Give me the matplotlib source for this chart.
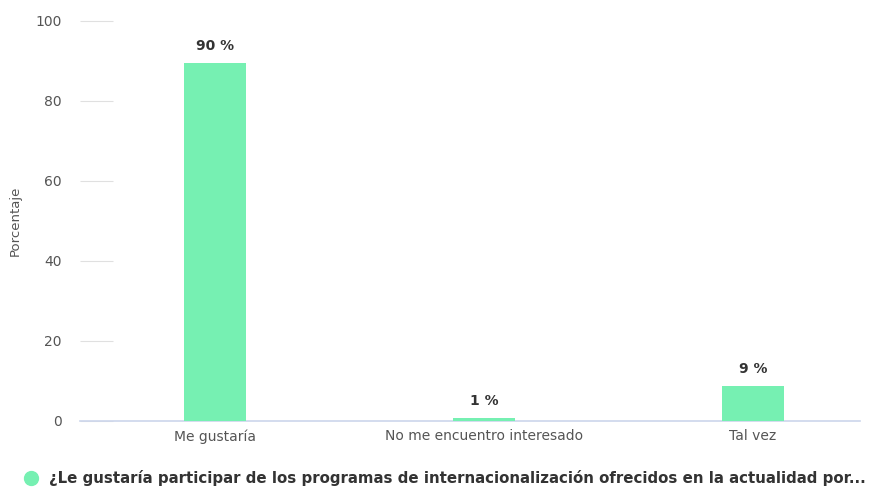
import matplotlib.pyplot as plt
from matplotlib.lines import Line2D

# datos
categorias = ["Me gustaría", "No me encuentro interesado", "Tal vez"]
porcentajes = [89.5, 0.7, 8.8]
etiquetas = ["90 %", "1 %", "9 %"]
serie = "¿Le gustaría participar de los programas de internacionalización ofrecidos en la actualidad por..."
yticks = [0, 20, 40, 60, 80, 100]

plt.rcParams['font.family'] = ['DejaVu Sans']

fig = plt.figure(figsize=(8.76, 4.87), dpi=100)
ax = fig.add_axes([80 / 876, 66 / 487, 780 / 876, 400 / 487])

verde = "#76f0b2"
x = range(len(categorias))
ax.bar(x, porcentajes, width=0.23, color=verde, zorder=3)

for i, (v, t) in enumerate(zip(porcentajes, etiquetas)):
    ax.annotate(t, (i, v), xytext=(0, 7), textcoords="offset points",
                ha="center", va="bottom", fontsize=10, fontweight="bold",
                color="#333333")

ax.set_xlim(-0.502, 2.398)
ax.set_ylim(0, 100)
ax.set_xticks(list(x))
ax.set_xticklabels(categorias, fontsize=10, color="#555555")
ax.set_yticks(yticks)
ax.tick_params(axis="x", length=0, pad=6)
ax.tick_params(axis="y", direction="in", length=24, width=0.8, color="#e0e0e0",
               pad=13, labelsize=10, labelcolor="#555555")
for s in ["top", "right", "left"]:
    ax.spines[s].set_visible(False)
ax.spines["bottom"].set_color("#ccd6eb")
ax.spines["bottom"].set_linewidth(1.2)
ax.spines["bottom"].set_zorder(2)

ax.set_ylabel("Porcentaje", fontsize=9.5, color="#555555", labelpad=10)

handle = Line2D([], [], marker="o", linestyle="", markersize=10,
                markerfacecolor=verde, markeredgecolor=verde)
fig.legend([handle], [serie], loc="center left", bbox_to_anchor=(0.011, 0.018),
           frameon=False, handletextpad=0.2, borderaxespad=0,
           prop={"size": 10.8, "weight": "bold"}, labelcolor="#333333")

fig.savefig("out.png", dpi=100)
